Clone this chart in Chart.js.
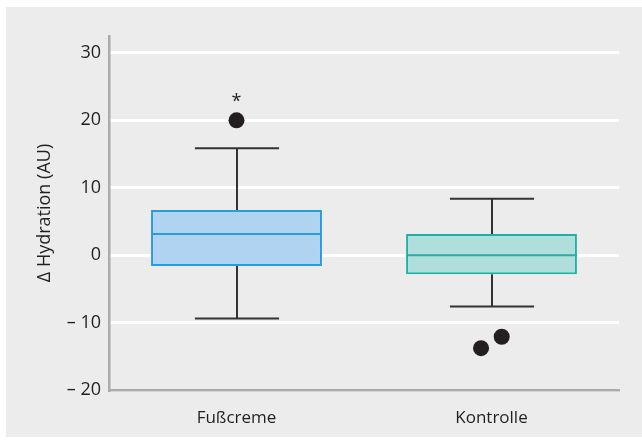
<!DOCTYPE html>
<html>
<head>
<meta charset="utf-8">
<script src="https://cdn.jsdelivr.net/npm/chart.js@4/dist/chart.umd.min.js"></script>
<style>
  html, body { margin: 0; padding: 0; background: #ffffff; }
  #panel { position: absolute; left: 6px; top: 7px; width: 636px; height: 430px; background: #ebeceb; }
  #wrap { position: absolute; left: 0; top: 0; width: 642px; height: 445px; }
</style>
</head>
<body>
<div id="panel"></div>
<div id="wrap"><canvas id="chart" width="642" height="445"></canvas></div>
<script>
// Box-plot summary per group (Δ Hydration, AU)
const groups      = ['Fußcreme', 'Kontrolle'];
const whiskerLow  = [-9.4, -7.6];
const q1          = [-1.6, -2.85];
const median      = [3.15, 0];
const q3          = [6.7, 3.15];
const whiskerHigh = [15.85, 8.35];

// Outliers: group index, value, significance mark
const outlierGroup = [0, 1, 1];
const outlierValue = [20, -13.8, -12.1];
const outlierMark  = ['*', '', ''];

// Y axis tick values
const yTicks = [-20, -10, 0, 10, 20, 30];

// ---- styling ----
const FONT = 'Open Sans, Noto Sans, sans-serif';
const TEXT = '#231f20';
const AXIS = '#a9abad';
const boxFills   = ['#afd3f0', '#b0dedc'];
const boxStrokes = ['#2a9bdc', '#22b0a4'];
const outlierJitter = [0, -0.041, 0.04];
const BOX_WIDTH = 0.67;   // fraction of a category
const CAP_WIDTH = 0.33;

const fmtTick = v => (v < 0 ? '\u2013 ' + Math.abs(v) : String(v));

// Whiskers and caps, drawn under the boxes
const whiskerPlugin = {
  id: 'whiskers',
  beforeDatasetsDraw(chart) {
    const { ctx } = chart;
    const xs = chart.scales.x, ys = chart.scales.y;
    const catW = xs.width / groups.length;
    ctx.save();
    ctx.strokeStyle = '#333333';
    ctx.lineWidth = 2;
    groups.forEach((g, i) => {
      const cx = Math.round(xs.getPixelForValue(i));
      const half = catW * CAP_WIDTH / 2;
      const pairs = [[q3[i], whiskerHigh[i]], [q1[i], whiskerLow[i]]];
      pairs.forEach(([from, to]) => {
        const y0 = ys.getPixelForValue(from), y1 = ys.getPixelForValue(to);
        ctx.beginPath();
        ctx.moveTo(cx, y0);
        ctx.lineTo(cx, y1);
        ctx.moveTo(cx - half, y1);
        ctx.lineTo(cx + half, y1);
        ctx.stroke();
      });
    });
    ctx.restore();
  }
};

// Median lines across each box, plus significance marks above outliers
const overlayPlugin = {
  id: 'overlay',
  afterDatasetsDraw(chart) {
    const { ctx } = chart;
    const ys = chart.scales.y;
    const boxMeta = chart.getDatasetMeta(0);
    ctx.save();
    ctx.lineWidth = 2;
    boxMeta.data.forEach((bar, i) => {
      const y = ys.getPixelForValue(median[i]);
      const half = bar.width / 2;
      ctx.strokeStyle = boxStrokes[i];
      ctx.beginPath();
      ctx.moveTo(bar.x - half, y);
      ctx.lineTo(bar.x + half, y);
      ctx.stroke();
    });

    const idx = chart.data.datasets.findIndex(d => d.label === 'Ausreißer');
    const meta = chart.getDatasetMeta(idx);
    ctx.fillStyle = TEXT;
    ctx.font = '18px ' + FONT;
    ctx.textAlign = 'center';
    ctx.textBaseline = 'alphabetic';
    meta.data.forEach((pt, i) => {
      if (outlierMark[i]) ctx.fillText(outlierMark[i], pt.x, pt.y - 13);
    });
    ctx.restore();
  }
};

new Chart(document.getElementById('chart'), {
  type: 'bar',
  data: {
    labels: groups,
    datasets: [
      {
        type: 'bar',
        label: 'Q1–Q3',
        data: groups.map((g, i) => [q1[i], q3[i]]),
        backgroundColor: boxFills,
        borderColor: boxStrokes,
        borderWidth: 2,
        borderSkipped: false,
        grouped: false,
        barPercentage: BOX_WIDTH,
        categoryPercentage: 1,
        xAxisID: 'x',
        yAxisID: 'y',
        order: 2
      },
      {
        type: 'scatter',
        label: 'Ausreißer',
        data: outlierValue.map((v, i) => ({ x: outlierGroup[i] + outlierJitter[i], y: v })),
        xAxisID: 'xo',
        yAxisID: 'y',
        pointRadius: 8,
        pointHoverRadius: 8,
        pointBackgroundColor: '#231f20',
        pointBorderWidth: 0,
        order: 1
      }
    ]
  },
  options: {
    responsive: false,
    devicePixelRatio: 1,
    animation: false,
    layout: { padding: { top: 36, right: 23, left: 0, bottom: 0 } },
    plugins: { legend: { display: false }, tooltip: { enabled: false } },
    scales: {
      x: {
        type: 'category',
        offset: true,
        grid: { display: false },
        border: { display: true, color: AXIS, width: 2.5 },
        ticks: { color: TEXT, font: { family: FONT, size: 17 }, padding: 10 },
        afterFit(s) { s.height = 55; }
      },
      xo: { type: 'linear', display: false, offset: false, min: -0.5, max: 1.5 },
      y: {
        type: 'linear',
        min: -20,
        max: 32.5,
        afterBuildTicks(s) { s.ticks = yTicks.map(v => ({ value: v })); },
        grid: { color: '#ffffff', lineWidth: 3, drawTicks: false },
        border: { display: true, color: AXIS, width: 2.5 },
        ticks: { color: TEXT, font: { family: FONT, size: 18 }, padding: 8, callback: v => fmtTick(v) },
        title: {
          display: true,
          text: 'Δ Hydration (AU)',
          color: TEXT,
          font: { family: FONT, size: 18 },
          padding: { top: 34, bottom: 0 }
        },
        afterFit(s) { s.width = 109; }
      }
    }
  },
  plugins: [whiskerPlugin, overlayPlugin]
});
</script>
</body>
</html>
